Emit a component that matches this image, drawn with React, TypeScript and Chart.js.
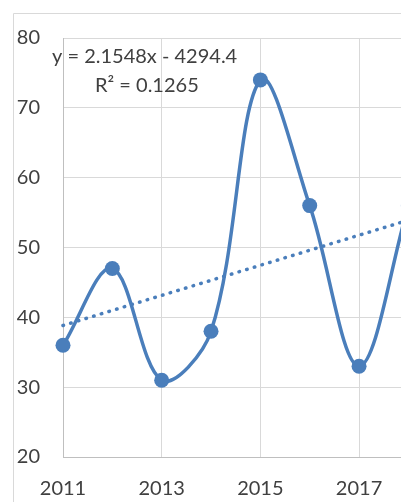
import React, { useEffect, useRef } from "react";
import { Chart, registerables } from "chart.js";

Chart.register(...registerables);

const years = [2011, 2012, 2013, 2014, 2015, 2016, 2017, 2018];
const values = [36, 47, 31, 38, 74, 56, 33, 56];
const xTickValues = [2011, 2013, 2015, 2017];
const yTickValues = [20, 30, 40, 50, 60, 70, 80];

const BLUE = "#4a7ebb";
const GRID = "#d9d9d9";
const AXIS = "#bfbfbf";
const TEXT = "#404040";
const FONT = "Lato";

function regression(xs: number[], ys: number[]) {
  const n = xs.length;
  const mx = xs.reduce((a, b) => a + b, 0) / n;
  const my = ys.reduce((a, b) => a + b, 0) / n;
  let sxy = 0, sxx = 0, syy = 0;
  for (let i = 0; i < n; i++) {
    sxy += (xs[i] - mx) * (ys[i] - my);
    sxx += (xs[i] - mx) ** 2;
    syy += (ys[i] - my) ** 2;
  }
  const slope = sxy / sxx;
  const intercept = my - slope * mx;
  const r2 = (sxy * sxy) / (sxx * syy);
  return { slope, intercept, r2 };
}

export default function App() {
  const ref = useRef<HTMLCanvasElement | null>(null);

  useEffect(() => {
    const canvas = ref.current;
    if (!canvas) return;
    const { slope, intercept, r2 } = regression(years, values);
    const xMin = years[0];
    const xMax = years[years.length - 1];
    const eqText =
      "y = " + slope.toFixed(4) + "x " + (intercept < 0 ? "- " : "+ ") + Math.abs(intercept).toFixed(1);
    const r2Text = "R\u00B2 = " + r2.toFixed(4);

    const framePlugin = {
      id: "frame",
      beforeDraw(chart: any) {
        const ctx = chart.ctx;
        ctx.save();
        ctx.strokeStyle = GRID;
        ctx.lineWidth = 1;
        ctx.beginPath();
        ctx.moveTo(13.5, chart.height);
        ctx.lineTo(13.5, 13.5);
        ctx.lineTo(chart.width, 13.5);
        ctx.stroke();
        ctx.restore();
      },
      afterDraw(chart: any) {
        const ctx = chart.ctx;
        ctx.save();
        ctx.fillStyle = TEXT;
        ctx.font = "20px " + FONT;
        ctx.textBaseline = "middle";
        ctx.textAlign = "left";
        ctx.fillText(eqText, 52, 57);
        ctx.fillText(r2Text, 95, 86);
        ctx.restore();
      },
    };

    const chart = new Chart(canvas, {
      type: "line",
      data: {
        datasets: [
          {
            label: "Series",
            data: years.map((x, i) => ({ x, y: values[i] })),
            borderColor: BLUE,
            backgroundColor: BLUE,
            borderWidth: 3.5,
            pointRadius: 7.5,
            pointBorderWidth: 0,
            pointBackgroundColor: BLUE,
            tension: 0.35,
            clip: false,
          },
          {
            label: "Trend",
            data: [
              { x: xMin, y: slope * xMin + intercept },
              { x: xMax, y: slope * xMax + intercept },
            ],
            borderColor: BLUE,
            borderWidth: 3.5,
            borderDash: [0.5, 7.5],
            borderCapStyle: "round",
            pointRadius: 0,
            tension: 0,
            clip: false,
          },
        ],
      },
      options: {
        animation: false,
        responsive: false,
        devicePixelRatio: 1,
        elements: { line: { capBezierPoints: false } },
        layout: { autoPadding: false, padding: { top: 38, left: 0, right: 0, bottom: 0 } },
        plugins: {
          legend: { display: false },
          tooltip: { enabled: false },
          title: { display: false },
        },
        scales: {
          x: {
            type: "linear",
            min: 2011,
            max: 2017.85,
            afterBuildTicks: (scale: any) => {
              scale.ticks = xTickValues.map((v) => ({ value: v }));
            },
            afterFit: (scale: any) => {
              scale.height = 45;
              scale.paddingLeft = 0;
              scale.paddingRight = 0;
            },
            grid: { color: GRID, lineWidth: 1, drawTicks: false },
            border: { color: AXIS, width: 1 },
            ticks: {
              color: TEXT,
              font: { family: FONT, size: 20 },
              padding: 20,
              maxRotation: 0,
              callback: (v: any) => String(v),
            },
          },
          y: {
            min: 20,
            max: 80,
            afterBuildTicks: (scale: any) => {
              scale.ticks = yTickValues.map((v) => ({ value: v }));
            },
            afterFit: (scale: any) => {
              scale.width = 63;
            },
            grid: { color: GRID, lineWidth: 1, drawTicks: false },
            border: { color: AXIS, width: 1 },
            ticks: {
              color: TEXT,
              font: { family: FONT, size: 20 },
              padding: 23,
              callback: (v: any) => String(v),
            },
          },
        },
      },
      plugins: [framePlugin],
    } as any);

    return () => chart.destroy();
  }, []);

  return (
    <canvas
      ref={ref}
      width={401}
      height={502}
      style={{ position: "absolute", left: 0, top: 0, width: 401, height: 502 }}
    />
  );
}
